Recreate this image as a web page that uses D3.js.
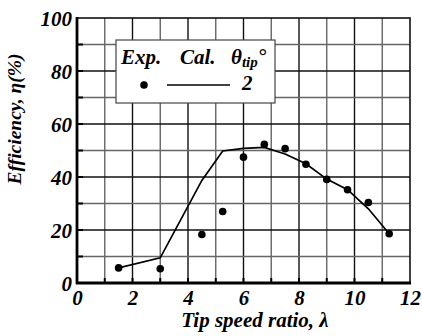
<!DOCTYPE html>
<html><head><meta charset="utf-8">
<script src="https://cdn.jsdelivr.net/npm/d3@7/dist/d3.min.js"></script>
</head><body style="margin:0"><svg id="c" width="422" height="336" style="display:block"></svg>
<script>
const expX = [1.5, 3, 4.5, 5.25, 6, 6.75, 7.5, 8.25, 9, 9.75, 10.5, 11.25];
const expY = [5.7, 5.4, 18.3, 27, 47.5, 52.3, 50.7, 44.8, 39.1, 35.2, 30.4, 18.6];
const calX = [1.5, 3, 4.5, 5.25, 6, 6.75, 7.5, 8.25, 9, 9.75, 10.5, 11.25];
const calY = [5.7, 9.5, 38.7, 49.8, 50.8, 51.2, 48.7, 45, 39.2, 35.2, 28, 18.6];
const xTicks = [0, 2, 4, 6, 8, 10, 12];
const yTicks = [0, 20, 40, 60, 80, 100];

function st(sel, size) {
  return sel.attr("font-family", "Liberation Serif").attr("font-weight", "bold").attr("font-style", "italic")
    .attr("font-size", size).attr("fill", "#000");
}

const svg = d3.select("#c");
const L = 77, R = 410, T = 18, B = 283;
const x = d3.scaleLinear().domain([0, 12]).range([L, R]);
const y = d3.scaleLinear().domain([0, 100]).range([B, T]);

const g = svg.append("g");
d3.range(1, 12).forEach(v => {
  g.append("line").attr("x1", x(v)).attr("x2", x(v)).attr("y1", T).attr("y2", B)
   .attr("stroke", v % 2 === 0 ? "#111" : "#666").attr("stroke-width", 1.4);
});
d3.range(10, 100, 10).forEach(v => {
  g.append("line").attr("x1", L).attr("x2", R).attr("y1", y(v)).attr("y2", y(v))
   .attr("stroke", v % 20 === 0 ? "#111" : "#666").attr("stroke-width", 1.4);
});
d3.range(1, 12).forEach(v => {
  g.append("line").attr("x1", x(v)).attr("x2", x(v)).attr("y1", B).attr("y2", B - 5)
   .attr("stroke", "#000").attr("stroke-width", 2);
});
d3.range(10, 100, 10).forEach(v => {
  g.append("line").attr("x1", L).attr("x2", L + 6).attr("y1", y(v)).attr("y2", y(v))
   .attr("stroke", "#000").attr("stroke-width", 2);
});
g.append("rect").attr("x", L).attr("y", T).attr("width", R - L).attr("height", B - T)
 .attr("fill", "none").attr("stroke", "#111").attr("stroke-width", 1.6);
g.append("line").attr("x1", L).attr("x2", L).attr("y1", T - 1).attr("y2", B + 1).attr("stroke", "#000").attr("stroke-width", 2.8);
g.append("line").attr("x1", L - 1).attr("x2", R + 1).attr("y1", B).attr("y2", B).attr("stroke", "#000").attr("stroke-width", 2.8);

const xa = svg.append("g").attr("transform", `translate(0,${B})`)
  .call(d3.axisBottom(x).tickValues(xTicks).tickSize(0).tickPadding(6));
xa.attr("font-family", null).attr("font-size", null);
xa.select(".domain").remove();
st(xa.selectAll("text"), 21).attr("dy", "0.75em");
const ya = svg.append("g").attr("transform", `translate(${L},0)`)
  .call(d3.axisLeft(y).tickValues(yTicks).tickSize(0).tickPadding(5));
ya.attr("font-family", null).attr("font-size", null);
ya.select(".domain").remove();
st(ya.selectAll("text"), 21).attr("dy", "0.34em");

st(svg.append("text").attr("x", 255).attr("y", 327).attr("text-anchor", "middle"), 21)
  .text("Tip speed ratio, λ");
st(svg.append("text").attr("transform", "translate(21,119) rotate(-90)").attr("text-anchor", "middle"), 19.5)
  .text("Efficiency, η(%)");

const line = d3.line().x(d => x(d[0])).y(d => y(d[1]));
svg.append("path").datum(calX.map((v, i) => [v, calY[i]])).attr("d", line)
  .attr("fill", "none").attr("stroke", "#000").attr("stroke-width", 1.7);
svg.selectAll("circle.p").data(expX.map((v, i) => [v, expY[i]])).enter().append("circle")
  .attr("cx", d => x(d[0])).attr("cy", d => y(d[1])).attr("r", 3.8).attr("fill", "#000");

const lg = svg.append("g");
lg.append("rect").attr("x", 116).attr("y", 40).attr("width", 159).attr("height", 63)
  .attr("fill", "#fff").attr("stroke", "#444").attr("stroke-width", 1.2);
st(lg.append("text").attr("x", 121).attr("y", 63.5), 21).text("Exp.");
st(lg.append("text").attr("x", 180).attr("y", 63.5), 21).text("Cal.");
const th = st(lg.append("text").attr("x", 231).attr("y", 63.5), 21);
th.append("tspan").text("θ");
th.append("tspan").attr("font-size", 15).attr("dy", 3).text("tip");
th.append("tspan").attr("font-size", 21).attr("dy", -4).text("°");
lg.append("circle").attr("cx", 144).attr("cy", 85).attr("r", 3.8).attr("fill", "#000");
lg.append("line").attr("x1", 167).attr("x2", 230).attr("y1", 85).attr("y2", 85).attr("stroke", "#000").attr("stroke-width", 1.7);
st(lg.append("text").attr("x", 242).attr("y", 90), 21).text("2");
</script></body></html>
